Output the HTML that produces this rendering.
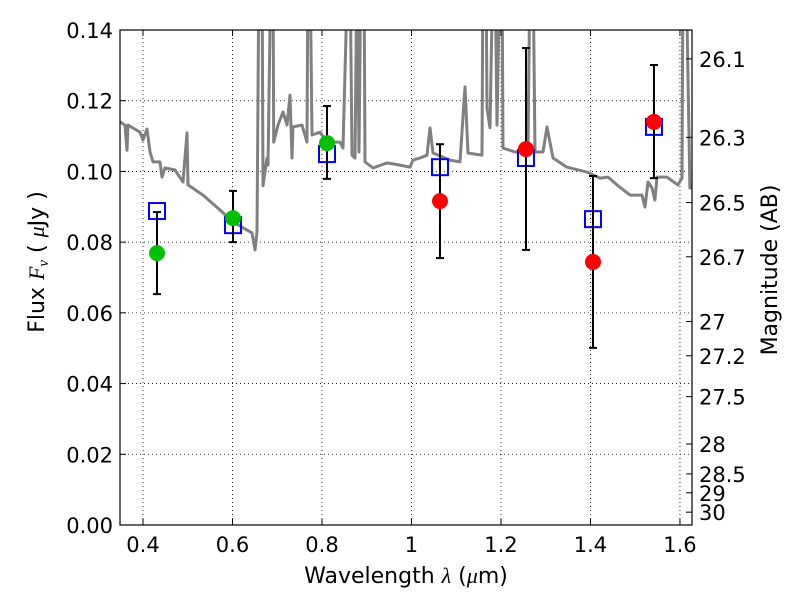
<!DOCTYPE html>
<html><head><meta charset="utf-8"><style>
html,body{margin:0;padding:0;background:#fff;}
svg text{font-family:"DejaVu Sans","Liberation Sans",sans-serif;fill:#000;}
</style></head><body>
<svg id="chart" width="800" height="600" viewBox="0 0 800 600" xmlns="http://www.w3.org/2000/svg">
<rect x="0" y="0" width="800" height="600" fill="#fff"/>
<g id="grid"></g>
<g id="plot"></g>
<g id="axes"></g>
</svg>
<script>
const specWave=[0.3486,0.3598,0.3642,0.3665,0.3933,0.4,0.4089,0.4156,0.4223,0.438,0.4425,0.4492,0.4715,0.4894,0.4983,0.5006,0.5341,0.5721,0.6011,0.6436,0.6503,0.6547,0.6592,0.6659,0.6682,0.6771,0.6793,0.686,0.6905,0.692,0.7017,0.7128,0.7218,0.7285,0.733,0.7352,0.7553,0.7665,0.7687,0.7732,0.7777,0.7955,0.8112,0.8402,0.8469,0.8581,0.8626,0.867,0.8737,0.8782,0.8827,0.8872,0.8939,0.8961,0.914,0.9453,0.9743,0.9966,1.0034,1.019,1.0346,1.0413,1.048,1.086,1.1084,1.1196,1.1263,1.1575,1.1598,1.1665,1.1687,1.1754,1.1821,1.1866,1.1911,1.1978,1.2022,1.2045,1.2313,1.2603,1.2648,1.2715,1.276,1.2939,1.3028,1.3162,1.3475,1.3922,1.4212,1.4391,1.4592,1.4883,1.5151,1.5218,1.5285,1.5374,1.5441,1.5486,1.562,1.5709,1.5955,1.6045,1.6067,1.6134,1.6223,1.629];
const specFlux=[0.114,0.1131,0.106,0.1131,0.1111,0.1089,0.112,0.1055,0.1027,0.1027,0.0984,0.101,0.1004,0.097,0.1109,0.0962,0.0933,0.0891,0.0857,0.0826,0.0778,0.0829,0.16,0.16,0.096,0.1038,0.1018,0.16,0.16,0.1083,0.1131,0.1168,0.1131,0.1216,0.1038,0.1126,0.1131,0.1083,0.16,0.16,0.1103,0.1111,0.1083,0.1083,0.1066,0.16,0.16,0.1046,0.1038,0.16,0.1055,0.16,0.16,0.1027,0.101,0.1024,0.1018,0.1012,0.1032,0.1038,0.1046,0.1123,0.1052,0.1032,0.1027,0.1239,0.1052,0.1046,0.16,0.16,0.1179,0.1123,0.16,0.16,0.1131,0.16,0.16,0.1066,0.1055,0.1055,0.16,0.16,0.1055,0.1055,0.1126,0.1038,0.1012,0.0998,0.0981,0.0984,0.0962,0.0933,0.0933,0.0899,0.097,0.0953,0.0919,0.0984,0.0984,0.0984,0.0962,0.0981,0.16,0.16,0.0953,0.0953];
const bandWave=[0.4313,0.6011,0.8112,1.0637,1.2559,1.4056,1.5419];
const modelFlux=[0.0888,0.0848,0.1049,0.1012,0.1038,0.0865,0.1126];
const greenWave=[0.4313,0.6011,0.8112];
const greenFlux=[0.0769,0.0868,0.108];
const greenLo=[0.0653,0.080,0.0979];
const greenHi=[0.0885,0.0945,0.1185];
const redWave=[1.0637,1.2559,1.4056,1.5419];
const redFlux=[0.0916,0.1063,0.0744,0.114];
const redLo=[0.0755,0.0778,0.0501,0.0981];
const redHi=[0.1077,0.1349,0.0987,0.1301];
const xTicks=[0.4,0.6,0.8,1.0,1.2,1.4,1.6];
const xTickLabels=["0.4","0.6","0.8","1","1.2","1.4","1.6"];
const yTicks=[0,0.02,0.04,0.06,0.08,0.1,0.12,0.14];
const yTickLabels=["0.00","0.02","0.04","0.06","0.08","0.10","0.12","0.14"];
const magTicks=[26.1,26.3,26.5,26.7,27,27.2,27.5,28,28.5,29,30];
const magTickLabels=["26.1","26.3","26.5","26.7","27","27.2","27.5","28","28.5","29","30"];

const L=120,R=692,T=30,B=525;
const xmin=0.3486,xmax=1.6269,ymin=0,ymax=0.14;
const X=v=>L+(v-xmin)/(xmax-xmin)*(R-L);
const Y=v=>B-(v-ymin)/(ymax-ymin)*(B-T);
const magToFlux=m=>Math.pow(10,(23.9-m)/2.5);
const NS="http://www.w3.org/2000/svg";
function mk(tag,attrs,parent){const e=document.createElementNS(NS,tag);for(const k in attrs)e.setAttribute(k,attrs[k]);parent.appendChild(e);return e;}
const grid=document.getElementById('grid'),plot=document.getElementById('plot'),axes=document.getElementById('axes');

const cp=mk('clipPath',{id:'clip'},plot);
mk('rect',{x:L,y:T,width:R-L,height:B-T},cp);

xTicks.forEach((t,i)=>{const g=mk('line',{x1:X(t),x2:X(t),y1:T,y2:B,stroke:'#000','stroke-width':0.8,'stroke-dasharray':'1,3'},grid);
});
yTicks.forEach((t,i)=>{const g=mk('line',{x1:L,x2:R,y1:Y(t),y2:Y(t),stroke:'#000','stroke-width':0.8,'stroke-dasharray':'1,3'},grid);
});

const pts=specWave.map((w,i)=>X(w).toFixed(1)+','+Y(specFlux[i]).toFixed(1)).join(' ');
const sp=mk('polyline',{points:pts,fill:'none',stroke:'#808080','stroke-width':3,'clip-path':'url(#clip)','stroke-linejoin':'round'},plot);


function errbar(x,lo,hi,name){const g=mk('g',{},plot);
mk('line',{x1:X(x),x2:X(x),y1:Y(lo),y2:Y(hi),stroke:'#000','stroke-width':2},g);
[lo,hi].forEach(v=>mk('line',{x1:X(x)-4,x2:X(x)+4,y1:Y(v),y2:Y(v),stroke:'#000','stroke-width':2},g));}

bandWave.forEach((w,i)=>{const s=mk('rect',{x:X(w)-8,y:Y(modelFlux[i])-8,width:16,height:16,fill:'none',stroke:'#0000ff','stroke-width':2},plot);
});
greenWave.forEach((w,i)=>{errbar(w,greenLo[i],greenHi[i],'green-error-bar');});
redWave.forEach((w,i)=>{errbar(w,redLo[i],redHi[i],'red-error-bar');});
greenWave.forEach((w,i)=>{const c=mk('circle',{cx:X(w),cy:Y(greenFlux[i]),r:8,fill:'#00c000'},plot);
});
redWave.forEach((w,i)=>{const c=mk('circle',{cx:X(w),cy:Y(redFlux[i]),r:8,fill:'#ff0000'},plot);
});

const frame=mk('rect',{x:L,y:T,width:R-L,height:B-T,fill:'none',stroke:'#000','stroke-width':1.2},axes);


xTicks.forEach((t,i)=>{mk('line',{x1:X(t),x2:X(t),y1:B,y2:B-6,stroke:'#000'},axes);mk('line',{x1:X(t),x2:X(t),y1:T,y2:T+6,stroke:'#000'},axes);
const tx=mk('text',{x:X(t),y:B+27,'text-anchor':'middle','font-size':21},axes);tx.textContent=xTickLabels[i];
});
yTicks.forEach((t,i)=>{mk('line',{x1:L,x2:L+6,y1:Y(t),y2:Y(t),stroke:'#000'},axes);
const tx=mk('text',{x:L-7,y:Y(t)+8,'text-anchor':'end','font-size':21},axes);tx.textContent=yTickLabels[i];
});
magTicks.forEach((m,i)=>{const y=Y(magToFlux(m));mk('line',{x1:R,x2:R-6,y1:y,y2:y,stroke:'#000'},axes);
const tx=mk('text',{x:R+7,y:y+8,'font-size':21},axes);tx.textContent=magTickLabels[i];
});

const xl=mk('text',{x:406,y:583,'text-anchor':'middle','font-size':22},axes);
xl.innerHTML='Wavelength  <tspan font-style="italic" font-family="Liberation Serif">λ</tspan> (<tspan font-style="italic" font-family="Liberation Serif">μ</tspan>m)';

const yl=mk('text',{x:0,y:0,'text-anchor':'middle','font-size':22,transform:'translate(44,262) rotate(-90)'},axes);
yl.innerHTML='Flux  <tspan font-style="italic" font-family="Liberation Serif">F</tspan><tspan font-style="italic" font-family="Liberation Serif" font-size="15" dy="4">ν</tspan><tspan dy="-4">  (  </tspan><tspan font-style="italic" font-family="Liberation Serif">μ</tspan>Jy )';

const rl=mk('text',{x:0,y:0,'text-anchor':'middle','font-size':22,transform:'translate(777,270) rotate(-90)'},axes);
rl.textContent='Magnitude (AB)';

</script>
</body></html>
